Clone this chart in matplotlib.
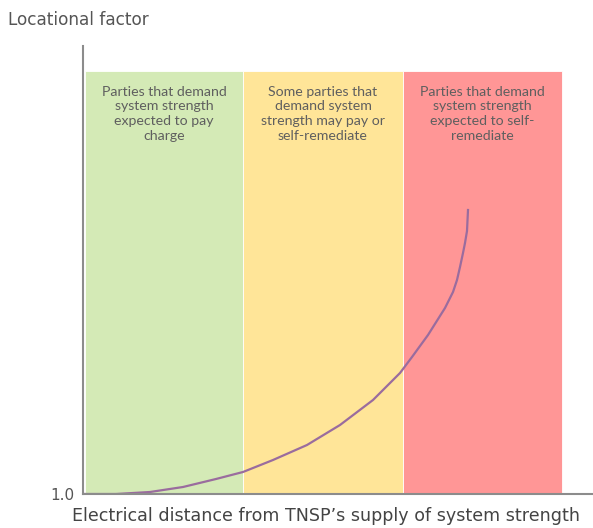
import matplotlib
matplotlib.use("Agg")
import matplotlib.pyplot as plt

# zone bands along the electrical-distance axis (arbitrary units)
band_edges = [2, 160, 320, 479]
band_top = 5.23
band_colors = ["#d4eab6", "#ffe598", "#ff9696"]
band_labels = [
    "Parties that demand\nsystem strength\nexpected to pay\ncharge",
    "Some parties that\ndemand system\nstrength may pay or\nself-remediate",
    "Parties that demand\nsystem strength\nexpected to self-\nremediate",
]

# locational factor curve
curve_x = [2, 33, 67, 100, 133, 160, 190, 224, 257, 290, 317, 329,
           345, 362, 370, 374, 377, 380, 382, 384, 385]
curve_y = [1.00, 1.00, 1.02, 1.07, 1.15, 1.22, 1.34, 1.49, 1.69, 1.94,
           2.21, 2.37, 2.59, 2.86, 3.02, 3.14, 3.27, 3.41, 3.51, 3.63, 3.84]

fig = plt.figure(figsize=(5.93, 5.28), dpi=100)
ax = fig.add_axes([83 / 593, 34 / 528, 510 / 593, 448 / 528])
ymin, ymax = 1.0, 5.48

for i, c in enumerate(band_colors):
    ax.axvspan(band_edges[i], band_edges[i + 1], ymin=0,
               ymax=(band_top - ymin) / (ymax - ymin),
               color=c, ec="white", lw=0.6, zorder=0)
    ax.text((band_edges[i] + band_edges[i + 1]) / 2, band_top - 0.15,
            band_labels[i], ha="center", va="top", fontsize=10.2,
            color="#5f5f5f", linespacing=1.25, family="Lato")

ax.plot(curve_x, curve_y, color="#9a6c9e", lw=1.6, zorder=2,
        solid_joinstyle="round")

ax.set_xlim(0, 510)
ax.set_ylim(ymin, ymax)
for s in ["top", "right"]:
    ax.spines[s].set_visible(False)
for s in ["left", "bottom"]:
    ax.spines[s].set_color("#8c8c8c")
    ax.spines[s].set_linewidth(1.5)
ax.set_xticks([])
ax.set_yticks([1.0])
ax.set_yticklabels(["1.0"], fontsize=11, color="#555555")
ax.tick_params(axis="y", length=0, pad=6)

fig.text(326 / 593, 1 - 516 / 528,
         "Electrical distance from TNSP\u2019s supply of system strength",
         fontsize=12.6, color="#444444", ha="center", va="center")
fig.text(8 / 593, 1 - 20 / 528, "Locational factor", fontsize=12.2,
         color="#555555", va="center")

fig.savefig("out.png", dpi=100)
